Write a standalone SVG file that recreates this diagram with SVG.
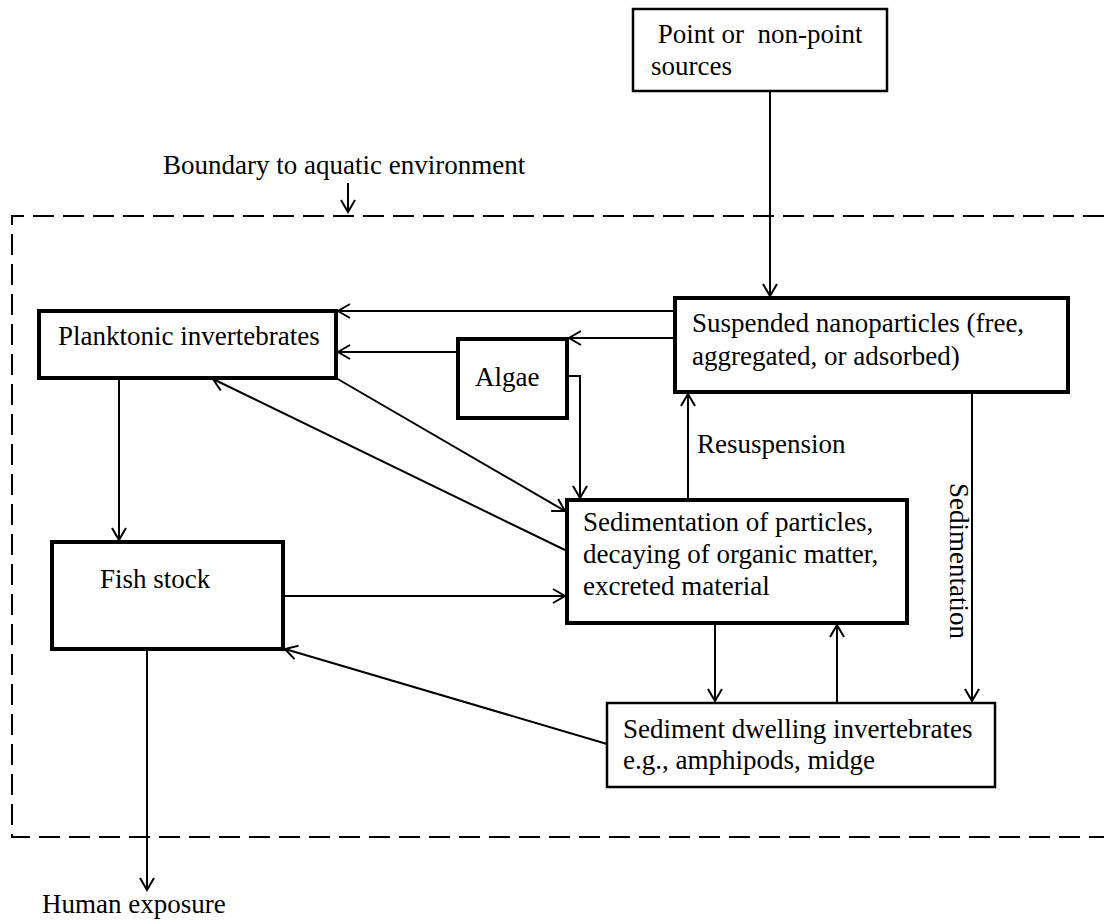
<svg xmlns="http://www.w3.org/2000/svg" width="1104" height="920" viewBox="0 0 1104 920">
<style>
text{font-family:"Liberation Serif","Times New Roman",serif;font-size:27px;fill:#000;white-space:pre}
.thick{fill:#fff;stroke:#000;stroke-width:4}
.thin{fill:#fff;stroke:#000;stroke-width:2.5}
.c{fill:none;stroke:#000;stroke-width:2;marker-end:url(#ah)}
.dash{fill:none;stroke:#000;stroke-width:2;stroke-dasharray:21 9}
</style>
<defs>
<marker id="ah" viewBox="-14 -9 16 18" markerWidth="16" markerHeight="18" refX="0" refY="0" orient="auto" markerUnits="userSpaceOnUse">
<path d="M-12,-7 L0,0 L-12,7" fill="none" stroke="#000" stroke-width="2"/>
</marker>
</defs>
<rect width="1104" height="920" fill="#fff"/>

<g id="boundary">
<path class="dash" d="M1104,216 H12 V837 H1104"/>
<text x="163" y="174">Boundary to aquatic environment</text>
</g>

<g id="connectors">
<path class="c" d="M348,183 V212"/>
<path class="c" d="M770,91 V296"/>
<path class="c" d="M675,311 H338"/>
<path class="c" d="M675,338 H569"/>
<path class="c" d="M458,352 H338"/>
<path class="c" d="M567,376 H580 V498"/>
<path class="c" d="M336,378 L565,511"/>
<path class="c" d="M565,550 L213,379"/>
<path class="c" d="M119,378 V540"/>
<path class="c" d="M283,596 H565"/>
<path class="c" d="M688,500 V394"/>
<path class="c" d="M972,392 V701"/>
<path class="c" d="M715,623 V701"/>
<path class="c" d="M837,703 V625"/>
<path class="c" d="M607,744 L285,649"/>
<path class="c" d="M147,649 V890"/>
</g>

<g id="point-sources">
<rect class="thin" x="633" y="9" width="254" height="82"/>
<text x="651" y="43"> Point or  non-point</text>
<text x="651" y="75">sources</text>
</g>

<g id="suspended">
<rect class="thick" x="675" y="298" width="393" height="94"/>
<text x="692" y="332">Suspended nanoparticles (free,</text>
<text x="692" y="365">aggregated, or adsorbed)</text>
</g>

<g id="planktonic">
<rect class="thick" x="39" y="311" width="297" height="67"/>
<text x="58" y="345">Planktonic invertebrates</text>
</g>

<g id="algae">
<rect class="thick" x="458" y="339" width="109" height="79"/>
<text x="475" y="386">Algae</text>
</g>

<g id="sedimentation-box">
<rect class="thick" x="567" y="500" width="340" height="123"/>
<text x="583" y="531">Sedimentation of particles,</text>
<text x="583" y="563">decaying of organic matter,</text>
<text x="583" y="595">excreted material</text>
</g>

<g id="fish">
<rect class="thick" x="52" y="542" width="231" height="107"/>
<text x="100" y="588">Fish stock</text>
</g>

<g id="sediment-dwelling">
<rect class="thin" x="607" y="703" width="388" height="84"/>
<text x="623" y="738">Sediment dwelling invertebrates</text>
<text x="623" y="769">e.g., amphipods, midge</text>
</g>

<g id="labels">
<text x="697" y="453">Resuspension</text>
<text transform="translate(950,483) rotate(90)">Sedimentation</text>
<text x="42" y="913">Human exposure</text>
</g>
</svg>
